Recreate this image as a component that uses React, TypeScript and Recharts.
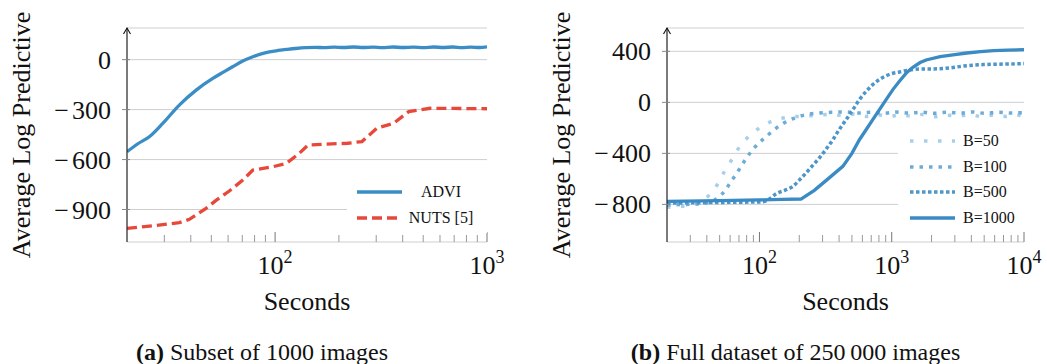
import { CartesianGrid, Label, Legend, Line, LineChart, XAxis, YAxis } from "recharts";

const FONT = '"Liberation Serif", "Times New Roman", Times, serif';

// (a) subset of 1000 images
const adviSec = [20, 22.5, 25.5, 29.5, 35.3, 42.4, 50.8, 57, 63, 70, 78.5, 86, 94, 103, 113, 125, 140, 155, 170, 190, 210, 235, 260, 290, 320, 360, 400, 450, 500, 560, 620, 690, 760, 840, 920, 1000];
const adviVal = [-553, -505, -463, -383, -273, -183, -113, -75, -43, -10, 17, 35, 47, 55, 61, 67, 72, 74, 72, 75, 73, 76, 73, 75, 72, 76, 73, 75, 72, 76, 73, 76, 72, 75, 73, 77];
const nutsSec = [20, 27.6, 35.3, 39.4, 47.2, 53, 60.8, 70.4, 78.5, 97.5, 113, 130, 143, 174, 220, 257, 302, 363, 427, 540, 700, 1000];
const nutsVal = [-1013, -995, -979, -959, -893, -842, -789, -723, -663, -643, -623, -563, -513, -507, -502, -492, -412, -382, -312, -292, -293, -295];
const leftYTicks = [-900, -600, -300, 0];
const leftXTicks = [30, 40, 50, 60, 70, 80, 90, 100, 200, 300, 400, 500, 600, 700, 800, 900, 1000];

// (b) full dataset of 250 000 images
const b50Sec = [20, 26, 32, 37, 42, 48.5, 54.4, 63, 71.5, 86.5, 106, 134, 169, 219, 280, 350, 430, 520, 640, 780, 950, 1150, 1400, 1700, 2100, 2600, 3200, 3900, 4800, 5900, 7200, 8600, 10000];
const b50Val = [-822, -815, -800, -770, -724, -638, -541, -436, -340, -253, -183, -136, -115, -108, -100, -95, -105, -92, -110, -96, -112, -98, -108, -95, -112, -100, -108, -96, -112, -100, -110, -98, -112];
const b100Sec = [20, 28, 35, 39.6, 45, 50, 56, 61, 67, 72.7, 80, 89, 100, 113, 128, 146, 170, 200, 240, 284, 350, 452, 560, 700, 870, 1080, 1350, 1700, 2100, 2600, 3300, 4100, 5100, 6400, 8000, 10000];
const b100Val = [-805, -800, -795, -789, -770, -737, -680, -620, -560, -502, -435, -371, -315, -267, -218, -175, -138, -110, -92, -83, -78, -76, -84, -78, -86, -76, -84, -78, -86, -78, -84, -76, -86, -78, -84, -80];
const b500Sec = [20, 40, 70, 106, 120, 134, 155, 179, 200, 225, 250, 284, 320, 359, 400, 452, 510, 570, 640, 719, 810, 907, 1020, 1143, 1300, 1622, 2000, 2760, 3500, 4900, 7000, 10000];
const b500Val = [-790, -786, -783, -780, -755, -716, -690, -659, -610, -554, -500, -436, -365, -293, -215, -136, -55, 21, 85, 139, 180, 209, 228, 238, 250, 262, 262, 270, 285, 296, 300, 304];
const b1000Sec = [20, 50, 100, 150, 206, 260, 330, 427, 500, 570, 640, 719, 810, 907, 1020, 1143, 1300, 1445, 1640, 1820, 2323, 3000, 3700, 4700, 5890, 7500, 10000];
const b1000Val = [-776, -770, -765, -761, -758, -690, -600, -502, -400, -293, -215, -136, -55, 21, 100, 165, 235, 275, 312, 332, 358, 374, 387, 397, 405, 410, 413];
const rightYTicks = [-800, -400, 0, 400];
const rightXTicks = [30, 40, 50, 60, 70, 80, 90, 100, 200, 300, 400, 500, 600, 700, 800, 900, 1000, 2000, 3000, 4000, 5000, 6000, 7000, 8000, 9000, 10000];

const zip = (xs: number[], ys: number[]) => xs.map((x, i) => ({ x, y: ys[i] }));

const leftSeries = [
  { name: "ADVI", rows: zip(adviSec, adviVal), color: "#3b8dc5", dash: undefined, width: 3.3, curve: "monotone" },
  { name: "NUTS [5]", rows: zip(nutsSec, nutsVal), color: "#e8483a", dash: "10 5", width: 3.3, curve: "linear" },
];

const rightSeries = [
  { name: "B=50", rows: zip(b50Sec, b50Val), color: "#a7cfea", dash: "3.5 10.5", width: 3.5, curve: "monotone" },
  { name: "B=100", rows: zip(b100Sec, b100Val), color: "#6dacd8", dash: "3.5 6", width: 3.5, curve: "monotone" },
  { name: "B=500", rows: zip(b500Sec, b500Val), color: "#4d96ca", dash: "3.5 2.5", width: 3.5, curve: "monotone" },
  { name: "B=1000", rows: zip(b1000Sec, b1000Val), color: "#3a8bc4", dash: undefined, width: 3.3, curve: "linear" },
];

const isPow10 = (v: number) => Math.abs(Math.log10(v) - Math.round(Math.log10(v))) < 1e-9;

function XTick(props: any) {
  const { x, y, payload } = props;
  const v = payload.value;
  const major = isPow10(v);
  return (
    <g>
      <line x1={x} x2={x} y1={y} y2={y - (major ? 10 : 7)} stroke={major ? "#777" : "#999"} strokeWidth={1} />
      {major && (
        <text x={x} y={y + 32} textAnchor="middle" fontSize={26} fontFamily={FONT} fill="#111">
          10
          <tspan dy={-11} fontSize={18}>
            {Math.round(Math.log10(v))}
          </tspan>
        </text>
      )}
    </g>
  );
}

function YTick(props: any) {
  const { x, y, payload } = props;
  const v = payload.value;
  return (
    <g>
      <line x1={x - 5} x2={x + 3} y1={y} y2={y} stroke="#888" strokeWidth={1} />
      <text x={x - 16} y={y} dy="0.35em" textAnchor="end" fontSize={26} fontFamily={FONT} fill="#111">
        {v < 0 ? (
          <>
            <tspan>{"\u2212"}</tspan>
            <tspan dx={3}>{Math.abs(v)}</tspan>
          </>
        ) : (
          String(v)
        )}
      </text>
    </g>
  );
}

const yTitle = (props: any) => {
  const { x, y, width, height } = props.viewBox;
  const ax = x + width;
  const cx = ax - 105.5;
  const cy = y + height / 2;
  return (
    <g>
      <path d={`M${ax - 3.5},${y + 6} L${ax},${y} L${ax + 3.5},${y + 6}`} fill="none" stroke="#111" strokeWidth={1.1} />
      <text
        x={cx}
        y={cy}
        transform={`rotate(-90 ${cx} ${cy})`}
        textAnchor="middle"
        dominantBaseline="central"
        fontSize={26}
        fontFamily={FONT}
        fill="#111"
      >
        Average Log Predictive
      </text>
    </g>
  );
};

// caption sits under the whole subfigure, a bit left of the plot centre
const xTitle = (tag: string, caption: string, capShift: number) => (props: any) => {
  const { x, y, width } = props.viewBox;
  const cx = x + width / 2;
  return (
    <g fontFamily={FONT} fill="#111">
      <text x={cx} y={y + 68} textAnchor="middle" fontSize={26}>
        Seconds
      </text>
      <text x={cx + capShift} y={y + 118} textAnchor="middle" fontSize={24}>
        <tspan fontWeight="bold">({tag})</tspan>
        {" " + caption}
      </text>
    </g>
  );
};

function LegendSample({ color, dash, width }: { color: string; dash?: string; width: number }) {
  return (
    <svg width={45} height={8} style={{ display: "block" }}>
      <line x1={0} x2={45} y1={4} y2={4} stroke={color} strokeWidth={width} strokeDasharray={dash} />
    </svg>
  );
}

function LeftLegend() {
  return (
    <div style={{ background: "#fff", width: 140, height: 54, position: "relative", fontFamily: FONT, fontSize: 16 }}>
      {leftSeries.map((s, i) => (
        <div key={s.name} style={{ position: "absolute", top: 13 + i * 25.7 - 10, left: 0, height: 20, display: "flex", alignItems: "center" }}>
          <div style={{ marginLeft: 10 }}>
            <LegendSample color={s.color} dash={s.dash} width={s.width} />
          </div>
          <div style={{ width: 78, marginLeft: 0, textAlign: "center", whiteSpace: "nowrap", color: "#111" }}>{s.name}</div>
        </div>
      ))}
    </div>
  );
}

function RightLegend() {
  return (
    <div style={{ background: "#fff", width: 130, height: 103, position: "relative", fontFamily: FONT, fontSize: 16 }}>
      {rightSeries.map((s, i) => (
        <div key={s.name} style={{ position: "absolute", top: 13 + i * 25.6 - 10, left: 0, height: 20, display: "flex", alignItems: "center" }}>
          <div style={{ marginLeft: 12 }}>
            <LegendSample color={s.color} dash={s.dash} width={s.width} />
          </div>
          <div style={{ marginLeft: 8, whiteSpace: "nowrap", color: "#111" }}>{s.name}</div>
        </div>
      ))}
    </div>
  );
}

export default function App() {
  return (
    <div style={{ position: "absolute", left: 0, top: 0, width: 1047, height: 364, background: "#fff" }}>
      <div style={{ position: "absolute", left: 0, top: 0 }}>
        <LineChart width={520} height={364} margin={{ top: 28, right: 33, bottom: 0, left: 0 }}>
          <CartesianGrid horizontal vertical={false} stroke="#cfcfcf" strokeWidth={1} />
          <XAxis
            dataKey="x"
            type="number"
            scale="log"
            domain={[20, 1000]}
            allowDataOverflow
            ticks={leftXTicks}
            interval={0}
            tick={<XTick />}
            tickSize={0}
            tickMargin={0}
            tickLine={false}
            axisLine={false}
            height={122}
          >
            <Label content={xTitle("a", "Subset of 1000 images", -45)} />
          </XAxis>
          <YAxis
            type="number"
            domain={[-1095, 190]}
            allowDataOverflow
            ticks={leftYTicks}
            interval={0}
            tick={<YTick />}
            tickSize={0}
            tickMargin={0}
            tickLine={false}
            axisLine={{ stroke: "#222", strokeWidth: 1.2 }}
            width={127}
          >
            <Label content={yTitle} />
          </YAxis>
          {leftSeries.map((s) => (
            <Line
              key={s.name}
              data={s.rows}
              dataKey="y"
              name={s.name}
              type={s.curve as any}
              stroke={s.color}
              strokeWidth={s.width}
              strokeDasharray={s.dash}
              dot={false}
              activeDot={false}
              isAnimationActive={false}
            />
          ))}
          <Legend
            layout="vertical"
            align="center"
            verticalAlign="middle"
            wrapperStyle={{ left: 347, top: 179, width: 140, height: 54 }}
            content={<LeftLegend />}
          />
        </LineChart>
      </div>
      <div style={{ position: "absolute", left: 520, top: 0 }}>
        <LineChart width={527} height={364} margin={{ top: 28, right: 23, bottom: 0, left: 0 }}>
          <CartesianGrid horizontal vertical={false} stroke="#cfcfcf" strokeWidth={1} />
          <XAxis
            dataKey="x"
            type="number"
            scale="log"
            domain={[20, 10000]}
            allowDataOverflow
            ticks={rightXTicks}
            interval={0}
            tick={<XTick />}
            tickSize={0}
            tickMargin={0}
            tickLine={false}
            axisLine={false}
            height={122}
          >
            <Label content={xTitle("b", "Full dataset of 250\u2009000 images", -50)} />
          </XAxis>
          <YAxis
            type="number"
            domain={[-1095, 583]}
            allowDataOverflow
            ticks={rightYTicks}
            interval={0}
            tick={<YTick />}
            tickSize={0}
            tickMargin={0}
            tickLine={false}
            axisLine={{ stroke: "#222", strokeWidth: 1.2 }}
            width={147}
          >
            <Label content={yTitle} />
          </YAxis>
          {rightSeries.map((s) => (
            <Line
              key={s.name}
              data={s.rows}
              dataKey="y"
              name={s.name}
              type={s.curve as any}
              stroke={s.color}
              strokeWidth={s.width}
              strokeDasharray={s.dash}
              dot={false}
              activeDot={false}
              isAnimationActive={false}
            />
          ))}
          <Legend
            layout="vertical"
            align="center"
            verticalAlign="middle"
            wrapperStyle={{ left: 378, top: 128, width: 130, height: 103 }}
            content={<RightLegend />}
          />
        </LineChart>
      </div>
    </div>
  );
}
